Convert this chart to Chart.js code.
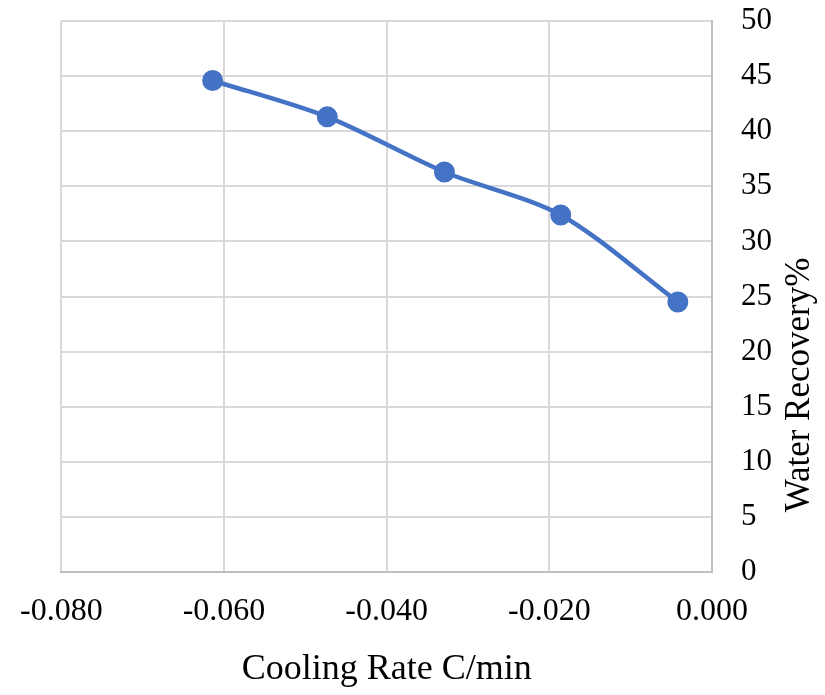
<!DOCTYPE html>
<html>
<head>
<meta charset="utf-8">
<script src="https://cdn.jsdelivr.net/npm/chart.js@4"></script>
<style>
  body { margin: 0; background: #fff; }
  #wrap { width: 825px; height: 695px; }
</style>
</head>
<body>
<div id="wrap"><canvas id="myChart1" width="825" height="695"></canvas></div>
<script>
// data
const coolingRate = [-0.0614, -0.0473, -0.0329, -0.0186, -0.0042];
const waterRecovery = [44.6, 41.3, 36.3, 32.4, 24.5];
const xRange = [-0.08, 0];
const yRange = [0, 50];
const xTitle = "Cooling Rate C/min";
const yTitle = "Water Recovery%";

const FONT = "'Liberation Serif', 'Times New Roman', serif";

// y title reads bottom-to-top on the right side
const yTitlePlugin = {
  id: "yTitle",
  afterDraw(chart) {
    const ctx = chart.ctx;
    const area = chart.chartArea;
    ctx.save();
    ctx.translate(area.right + 88, area.bottom - 187);
    ctx.rotate(-Math.PI / 2);
    ctx.font = "35px " + FONT;
    ctx.fillStyle = "#000";
    ctx.textAlign = "center";
    ctx.textBaseline = "middle";
    ctx.fillText(yTitle, 0, 0);
    ctx.restore();
  },
};

const data = {
  datasets: [
    {
      label: yTitle,
      data: coolingRate.map((x, i) => ({ x: x, y: waterRecovery[i] })),
      borderColor: "#4472C4",
      backgroundColor: "#4472C4",
      borderWidth: 4.5,
      pointRadius: 9,
      pointBorderWidth: 3,
      tension: 0.3,
    },
  ],
};

const config = {
  type: "line",
  data: data,
  plugins: [yTitlePlugin],
  options: {
    responsive: false,
    animation: false,
    layout: { padding: { left: 61, top: 21, right: 0, bottom: 0 } },
    plugins: {
      legend: { display: false },
      tooltip: { enabled: false },
    },
    scales: {
      x: {
        type: "linear",
        min: xRange[0],
        max: xRange[1],
        afterFit: (s) => { s.height = 123; },
        grid: { color: "#d9d9d9", lineWidth: 2, drawTicks: false },
        border: { color: "#bfbfbf", width: 2 },
        ticks: {
          stepSize: 0.02,
          padding: 20,
          color: "#000",
          font: { family: FONT, size: 32 },
          callback: (v) => v.toFixed(3),
        },
        title: {
          display: true,
          text: xTitle,
          color: "#000",
          font: { family: FONT, size: 36 },
          padding: { top: 0, bottom: 4 },
        },
      },
      y: {
        position: "right",
        min: yRange[0],
        max: yRange[1],
        afterFit: (s) => {
          s.width = 113;
          s.paddingTop = 0;
          s.paddingBottom = 0;
        },
        grid: { color: "#d9d9d9", lineWidth: 2, drawTicks: false },
        border: { color: "#bfbfbf", width: 2 },
        ticks: {
          stepSize: 5,
          padding: 29,
          color: "#000",
          font: { family: FONT, size: 31 },
        },
      },
    },
  },
};

const myChart = new Chart(document.getElementById("myChart1"), config);
</script>
</body>
</html>
